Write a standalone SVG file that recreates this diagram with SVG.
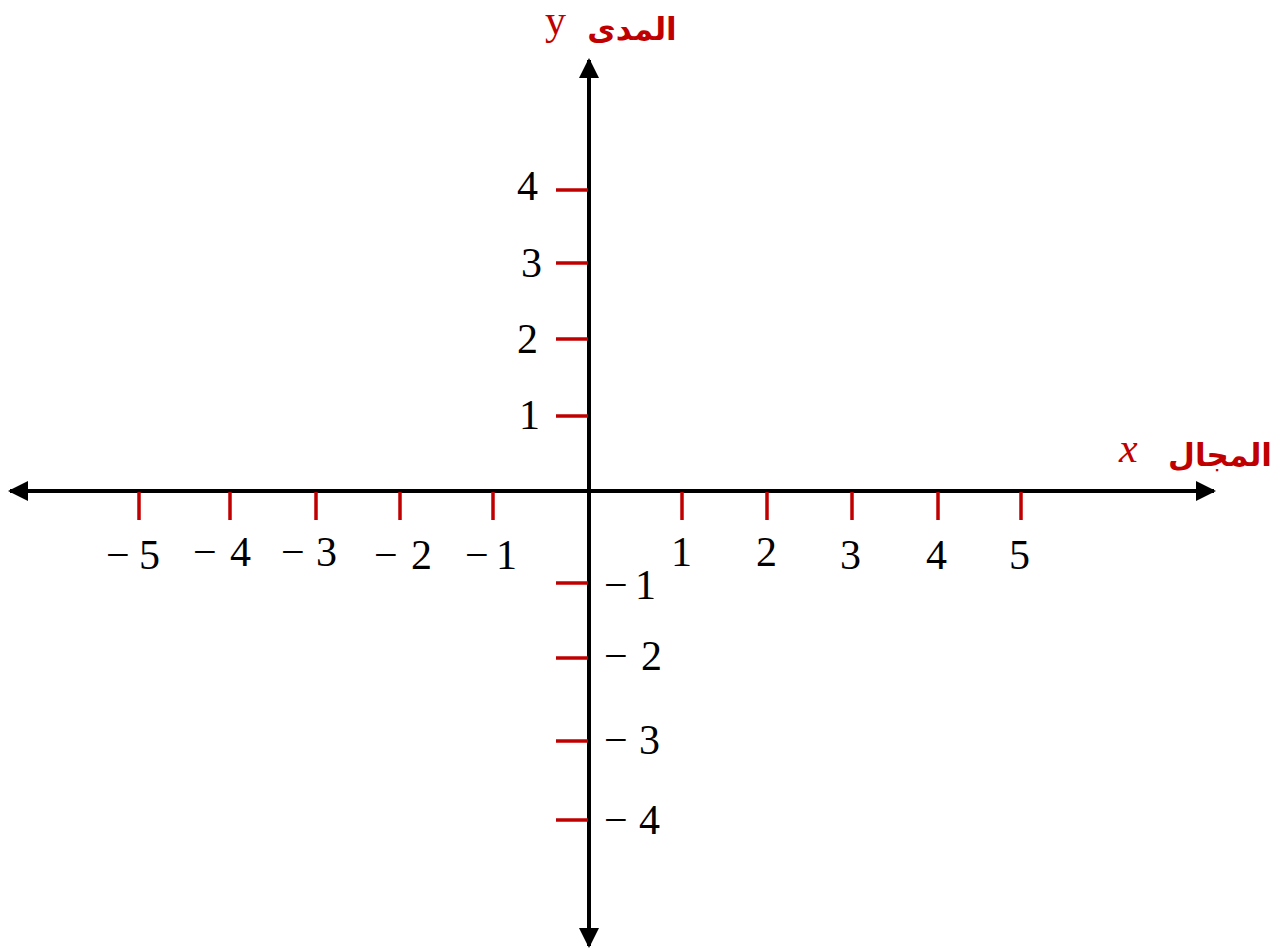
<svg xmlns="http://www.w3.org/2000/svg" width="1287" height="950" viewBox="0 0 1287 950">
<defs>
<style>
.axis{stroke:#000;stroke-width:4;fill:none}
.tick{stroke:#c00000;stroke-width:3.5}
.num{font-family:"Liberation Serif",serif;font-size:42px;fill:#000}
.neg{font-family:"Liberation Serif",serif;font-size:42px;fill:#000}
.lbl{font-family:"Liberation Serif",serif;font-size:42px;fill:#c00000}
.ar{font-family:"DejaVu Sans","Noto Sans",sans-serif;font-weight:bold;font-size:31px;fill:#c00000}
</style>
<marker id="ah" viewBox="0 0 10 10" refX="9" refY="5" markerWidth="5.5" markerHeight="5" orient="auto-start-reverse" markerUnits="strokeWidth">
<path d="M0,0 L10,5 L0,10 z" fill="#000"/>
</marker>
</defs>
<rect width="1287" height="950" fill="#fff"/>
<g id="connectors">
<line id="x-axis" class="axis" x1="10" y1="491" x2="1214" y2="491" marker-start="url(#ah)" marker-end="url(#ah)"/>
<line id="y-axis" class="axis" x1="589" y1="60" x2="589" y2="946" marker-start="url(#ah)" marker-end="url(#ah)"/>
</g>
<g id="x-ticks">
<line class="tick" x1="139" y1="492" x2="139" y2="520"/>
<line class="tick" x1="230" y1="492" x2="230" y2="520"/>
<line class="tick" x1="316" y1="492" x2="316" y2="520"/>
<line class="tick" x1="400" y1="492" x2="400" y2="520"/>
<line class="tick" x1="493" y1="492" x2="493" y2="520"/>
<line class="tick" x1="682" y1="492" x2="682" y2="520"/>
<line class="tick" x1="767" y1="492" x2="767" y2="520"/>
<line class="tick" x1="852" y1="492" x2="852" y2="520"/>
<line class="tick" x1="938" y1="492" x2="938" y2="520"/>
<line class="tick" x1="1021" y1="492" x2="1021" y2="520"/>
</g>
<g id="y-ticks">
<line class="tick" x1="556" y1="190" x2="588" y2="190"/>
<line class="tick" x1="556" y1="263" x2="588" y2="263"/>
<line class="tick" x1="556" y1="339" x2="588" y2="339"/>
<line class="tick" x1="556" y1="416" x2="588" y2="416"/>
<line class="tick" x1="556" y1="583" x2="588" y2="583"/>
<line class="tick" x1="556" y1="658" x2="588" y2="658"/>
<line class="tick" x1="556" y1="741" x2="588" y2="741"/>
<line class="tick" x1="556" y1="820" x2="588" y2="820"/>
</g>
<g id="x-labels">
<text class="neg" x="106" y="569" textLength="54" lengthAdjust="spacing">−5</text>
<text class="neg" x="193" y="566" textLength="58" lengthAdjust="spacing">−4</text>
<text class="neg" x="281" y="566" textLength="56" lengthAdjust="spacing">−3</text>
<text class="neg" x="374" y="569" textLength="58" lengthAdjust="spacing">−2</text>
<text class="neg" x="465" y="569" textLength="52" lengthAdjust="spacing">−1</text>
<text class="num" x="671" y="566">1</text>
<text class="num" x="756" y="566">2</text>
<text class="num" x="840" y="569">3</text>
<text class="num" x="926" y="569">4</text>
<text class="num" x="1009" y="569">5</text>
</g>
<g id="y-labels">
<text class="num" x="517" y="200">4</text>
<text class="num" x="521" y="277">3</text>
<text class="num" x="517" y="353">2</text>
<text class="num" x="519" y="429">1</text>
<text class="neg" x="604" y="599" textLength="52" lengthAdjust="spacing">−1</text>
<text class="neg" x="604" y="670" textLength="58" lengthAdjust="spacing">−2</text>
<text class="neg" x="604" y="754" textLength="56" lengthAdjust="spacing">−3</text>
<text class="neg" x="604" y="834" textLength="56" lengthAdjust="spacing">−4</text>
</g>
<g id="axis-titles">
<text class="lbl" x="545" y="34">y</text>
<text class="ar" x="632" y="40" text-anchor="middle">المدى</text>
<text class="lbl" x="1119" y="462" font-style="italic">x</text>
<text class="ar" x="1220" y="466" text-anchor="middle">المجال</text>
</g>
</svg>
